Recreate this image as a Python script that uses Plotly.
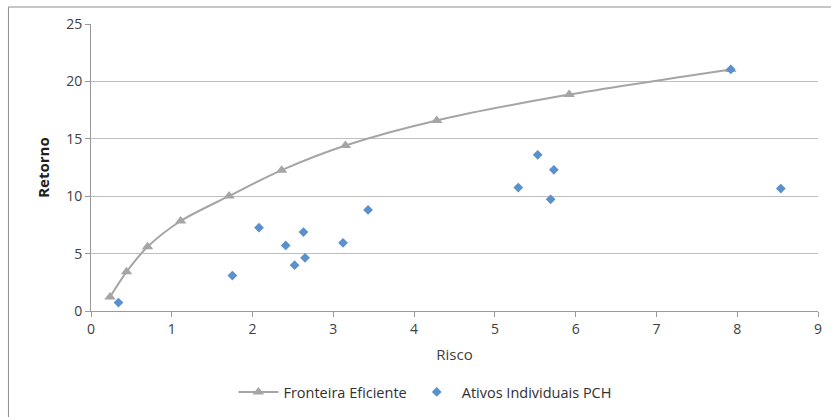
import plotly.graph_objects as go

# Data
frontier_risk = [0.235, 0.44, 0.70, 1.11, 1.71, 2.36, 3.15, 4.28, 5.92, 7.92]
frontier_return = [1.22, 3.41, 5.59, 7.84, 10.02, 12.27, 14.42, 16.6, 18.85, 21.04]

assets_risk = [0.34, 1.75, 2.08, 2.41, 2.52, 2.63, 2.65, 3.12, 3.43, 5.29, 5.53, 5.73, 5.69, 7.92, 8.54]
assets_return = [0.73, 3.09, 7.26, 5.71, 3.99, 6.88, 4.63, 5.94, 8.80, 10.75, 13.61, 12.30, 9.73, 21.04, 10.66]

x_ticks = [0, 1, 2, 3, 4, 5, 6, 7, 8, 9]
y_ticks = [0, 5, 10, 15, 20, 25]

FONT = "Open Sans, Liberation Sans, sans-serif"
TXT = "#404040"

fig = go.Figure()
fig.add_trace(go.Scatter(
    x=frontier_risk, y=frontier_return, mode="lines+markers",
    name="Fronteira Eficiente",
    line=dict(color="#A5A5A5", width=2, shape="spline", smoothing=0.8),
    marker=dict(symbol="triangle-up", size=10, color="#A5A5A5"),
))
fig.add_trace(go.Scatter(
    x=assets_risk, y=assets_return, mode="markers",
    name="Ativos Individuais PCH",
    marker=dict(symbol="diamond", size=7.5, color="#5A90CC"),
))

W, H = 831, 417
L, R, T, B = 91, 9, 24, 106
pw, ph = W - L - R, H - T - B

def px(p):
    return (p - L) / pw

def py(p):
    return (H - B - p) / ph

fig.add_shape(type="rect", xref="paper", yref="paper",
              x0=px(8), x1=px(840), y0=py(425), y1=py(7),
              line=dict(color="#8C8C8C", width=1), layer="below")

fig.update_layout(
    width=W, height=H,
    margin=dict(l=L, r=R, t=T, b=B),
    paper_bgcolor="white", plot_bgcolor="white",
    font=dict(family=FONT, size=14, color=TXT),
    showlegend=True,
    legend=dict(orientation="h", x=0.46, xanchor="center", y=py(392), yanchor="middle",
                font=dict(size=14.5, color="#303030"), itemwidth=40, bgcolor="rgba(0,0,0,0)"),
    xaxis=dict(range=[0, 9], tickvals=x_ticks, ticktext=[str(v) for v in x_ticks],
               showgrid=False, zeroline=False, showline=True, linecolor="#999999", linewidth=1,
               ticks="outside", ticklen=5, tickcolor="#999999",
               title=dict(text="Risco", font=dict(size=15, color=TXT), standoff=12),
               tickfont=dict(size=14, color=TXT)),
    yaxis=dict(range=[0, 25], tickvals=y_ticks, ticktext=[str(v) for v in y_ticks],
               showgrid=True, gridcolor="#BFBFBF", gridwidth=1, zeroline=False,
               showline=True, linecolor="#999999", linewidth=1,
               ticks="outside", ticklen=5, tickcolor="#999999",
               title=dict(text="<b>Retorno</b>", font=dict(size=15, color="#202020"), standoff=12),
               tickfont=dict(size=14, color=TXT)),
)

fig.write_html("out.html")
